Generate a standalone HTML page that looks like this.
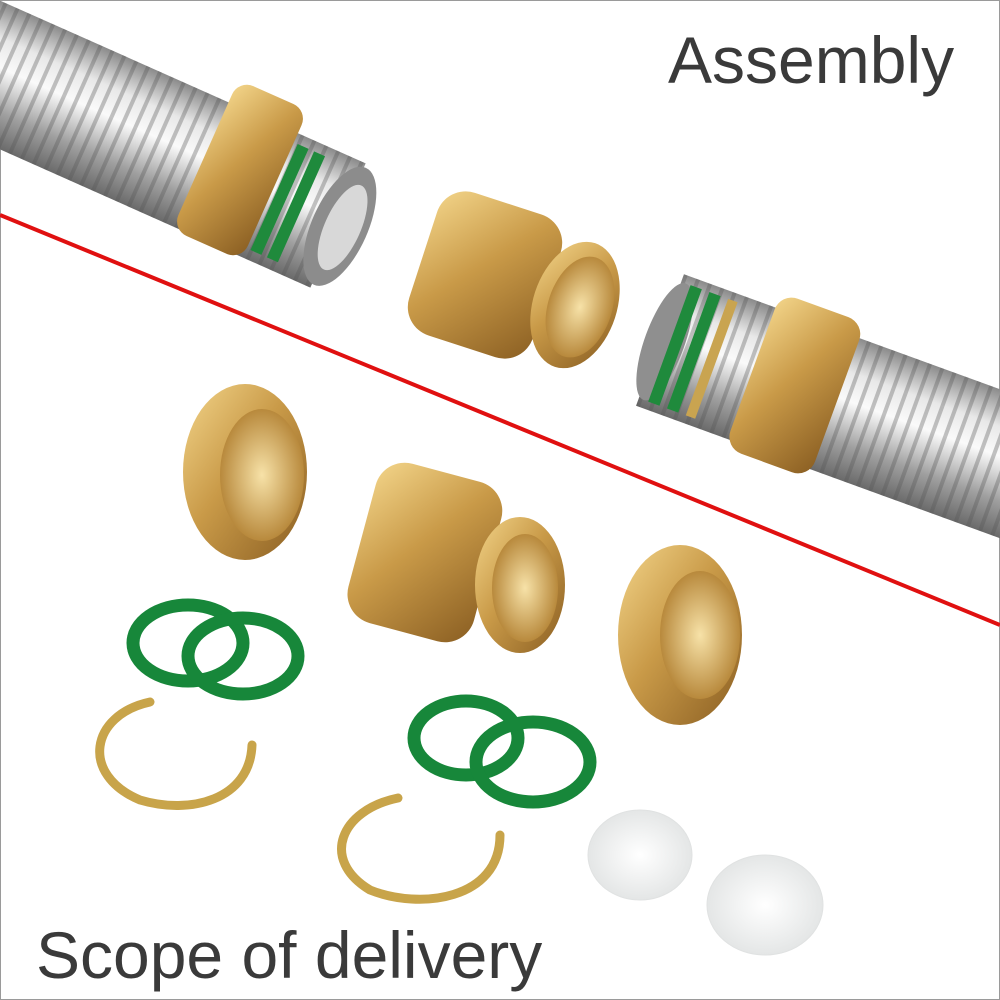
<!DOCTYPE html>
<html><head><meta charset="utf-8"><style>
html,body{margin:0;padding:0;background:#fff;}
svg{display:block}
text{font-family:"Liberation Sans",sans-serif;fill:#3a3a3a}
</style></head><body>
<svg width="1000" height="1000" viewBox="0 0 1000 1000" xmlns="http://www.w3.org/2000/svg">
<defs>
<linearGradient id="steel" x1="0" y1="0" x2="0" y2="1">
<stop offset="0" stop-color="#8a8a8a"/><stop offset="0.25" stop-color="#e8e8e8"/><stop offset="0.45" stop-color="#fafafa"/><stop offset="0.75" stop-color="#a0a0a0"/><stop offset="1" stop-color="#6a6a6a"/></linearGradient>
<pattern id="ribs" width="13" height="10" patternUnits="userSpaceOnUse">
<rect x="0" width="4" height="10" fill="#555" opacity="0.35"/></pattern>
<linearGradient id="brass" x1="0" y1="0" x2="1" y2="1">
<stop offset="0" stop-color="#f3d58a"/><stop offset="0.45" stop-color="#c99a48"/><stop offset="1" stop-color="#8a5e22"/></linearGradient>
<radialGradient id="inner" cx="0.5" cy="0.5" r="0.5">
<stop offset="0" stop-color="#f7e2a8"/><stop offset="1" stop-color="#b8893c"/></radialGradient>
<radialGradient id="cap" cx="0.5" cy="0.5" r="0.5">
<stop offset="0" stop-color="#ffffff"/><stop offset="1" stop-color="#e4e6e6"/></radialGradient>
</defs>
<rect x="0.5" y="0.5" width="999" height="999" fill="#fff" stroke="#9a9a9a"/>

<g transform="translate(0,75) rotate(24)">
<rect x="-60" y="-68" width="430" height="136" fill="url(#steel)"/>
<rect x="-60" y="-68" width="430" height="136" fill="url(#ribs)"/>
<rect x="300" y="-58" width="12" height="116" fill="#1f8a3c"/>
<rect x="318" y="-58" width="12" height="116" fill="#1f8a3c"/>
<rect x="285" y="-60" width="10" height="120" fill="#c9a450"/>
<ellipse cx="372" cy="0" rx="28" ry="64" fill="#8c8c8c"/>
<ellipse cx="375" cy="0" rx="18" ry="46" fill="#d8d8d8"/>
</g>
<g transform="translate(240,170) rotate(24)">
<rect x="-38" y="-82" width="76" height="164" rx="16" fill="url(#brass)"/>
</g>

<rect x="420" y="200" width="130" height="150" rx="30" fill="url(#brass)" transform="rotate(18 485 275)"/>
<ellipse cx="575" cy="305" rx="42" ry="65" fill="url(#brass)" transform="rotate(18 575 305)"/>
<ellipse cx="580" cy="307" rx="32" ry="52" fill="url(#inner)" transform="rotate(18 580 307)"/>

<g transform="translate(660,340) rotate(20)">
<rect x="0" y="-70" width="420" height="140" fill="url(#steel)"/>
<rect x="0" y="-70" width="420" height="140" fill="url(#ribs)"/>
<ellipse cx="5" cy="0" rx="20" ry="62" fill="#8f8f8f"/>
<rect x="10" y="-62" width="12" height="124" fill="#1f8a3c"/>
<rect x="30" y="-62" width="12" height="124" fill="#1f8a3c"/>
<rect x="50" y="-62" width="10" height="124" fill="#c9a450"/>
</g>
<g transform="translate(795,385) rotate(20)">
<rect x="-45" y="-82" width="90" height="165" rx="18" fill="url(#brass)"/>
</g>

<line x1="0" y1="215" x2="1000" y2="625" stroke="#e01010" stroke-width="4"/>

<ellipse cx="245" cy="472" rx="62" ry="88" fill="url(#brass)"/>
<ellipse cx="262" cy="475" rx="42" ry="66" fill="url(#inner)"/>
<rect x="360" y="470" width="130" height="165" rx="30" fill="url(#brass)" transform="rotate(15 425 552)"/>
<ellipse cx="520" cy="585" rx="45" ry="68" fill="url(#brass)"/>
<ellipse cx="525" cy="588" rx="33" ry="54" fill="url(#inner)"/>
<ellipse cx="680" cy="635" rx="62" ry="90" fill="url(#brass)"/>
<ellipse cx="700" cy="635" rx="40" ry="64" fill="url(#inner)"/>

<g fill="none" stroke="#17873a" stroke-width="13">
<ellipse cx="188" cy="643" rx="55" ry="38"/>
<ellipse cx="243" cy="656" rx="55" ry="38"/>
<ellipse cx="466" cy="738" rx="52" ry="37"/>
<ellipse cx="533" cy="762" rx="57" ry="40"/>
</g>
<g fill="none" stroke="#c8a44a" stroke-width="9" stroke-linecap="round">
<path d="M150 702 C 90 715, 80 775, 140 800 C 190 815, 250 800, 252 745"/>
<path d="M398 798 C 340 810, 320 860, 370 890 C 420 910, 500 900, 500 835"/>
</g>
<ellipse cx="640" cy="855" rx="52" ry="45" fill="url(#cap)" stroke="#e0e2e2"/>
<ellipse cx="765" cy="905" rx="58" ry="50" fill="url(#cap)" stroke="#e0e2e2"/>

<text x="668" y="83" font-size="66">Assembly</text>
<text x="36" y="978" font-size="66">Scope of delivery</text>
</svg>
</body></html>
